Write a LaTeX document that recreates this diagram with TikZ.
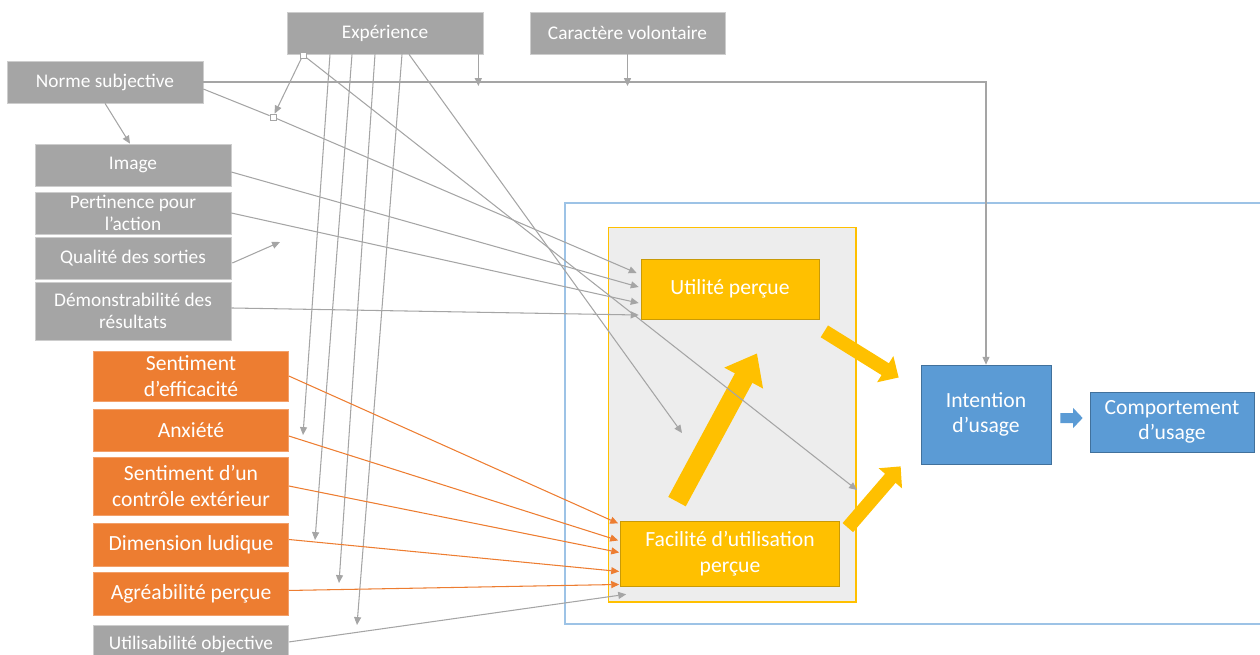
\documentclass[tikz,border=0pt]{standalone}
\usepackage{fontspec}
\setmainfont{Carlito}
\usetikzlibrary{shapes,arrows,arrows.meta,calc}
\definecolor{gris}{HTML}{A5A5A5}
\definecolor{grisbord}{HTML}{CDCDCD}
\definecolor{orangefill}{HTML}{ED7D31}
\definecolor{orangebord}{HTML}{F2A06A}
\definecolor{jaune}{HTML}{FFC000}
\definecolor{jaunebord}{HTML}{C99A06}
\definecolor{bleu}{HTML}{5B9BD5}
\definecolor{bleubord}{HTML}{41719C}
\definecolor{zonefill}{HTML}{EDEDED}
\definecolor{cadrecol}{HTML}{9DC3E6}
\tikzstyle{greybox} = [rectangle, draw=grisbord, fill=gris, text=white, align=center,
    minimum width=3.92cm, minimum height=0.84cm, inner sep=1pt, font=\fontsize{11}{12.5}\selectfont]
\tikzstyle{orangebox} = [rectangle, draw=orangebord, fill=orangefill, text=white, align=center,
    minimum width=3.9cm, minimum height=0.84cm, inner sep=1pt, font=\fontsize{12.3}{14.8}\selectfont]
\tikzstyle{yellowbox} = [rectangle, draw=jaunebord, fill=jaune, text=white, align=center,
    inner sep=1pt, font=\fontsize{12.3}{15}\selectfont]
\tikzstyle{bluebox} = [rectangle, draw=bleubord, fill=bleu, text=white, align=center,
    inner sep=1pt, font=\fontsize{12.3}{14.6}\selectfont]
\tikzstyle{zone} = [rectangle, draw=jaune, fill=zonefill, line width=0.6pt,
    minimum width=4.96cm, minimum height=7.5cm]
\tikzstyle{junction} = [rectangle, draw=gris, fill=white, line width=0.5pt,
    minimum size=0.12cm, inner sep=0pt]
\tikzstyle{greyline} = [draw=gris, line width=0.6pt, -{Triangle[length=4.5pt,width=4pt]}]
\tikzstyle{orangeline} = [draw=orangefill, line width=0.6pt, -{Triangle[length=4.5pt,width=4pt]}]
\tikzstyle{bigarrow} = [draw=jaune, line width=7.9pt, -{Triangle[length=9pt,width=17pt]}]
\tikzstyle{bluearrow} = [draw=bleu, line width=5.7pt, -{Triangle[length=5.5pt,width=11.3pt]}]
\begin{document}
\begin{tikzpicture}[x=0.02cm, y=-0.02cm]
	\useasboundingbox (0,0) rectangle (1260,654);
	\clip (0,0) rectangle (1260,654);
	\draw[cadrecol, line width=0.8pt] (565,203) rectangle (1300,624);
	\node [zone] (zone) at (732,414.5) {};

	\node [greybox] (exper) at (385,33) {Expérience};
	\node [greybox, minimum width=3.9cm] (volont) at (627.5,33) {Caractère volontaire};
	\node [greybox] (norme) at (105,82) {Norme subjective};
	\node [greybox] (image) at (133,165) {Image};
	\node [greybox, below of=image, node distance=0.96cm] (pertin) {Pertinence pour\\l’action};
	\node [greybox, below of=pertin, node distance=0.9cm] (qualite) {Qualité des sorties};
	\node [greybox, below of=qualite, node distance=1.06cm, minimum height=1.16cm] (demo) {Démonstrabilité des\\résultats};

	\node [orangebox, minimum height=1cm] (effic) at (191,376) {Sentiment\\d’efficacité};
	\node [orangebox, below of=effic, node distance=1.08cm] (anx) {Anxiété};
	\node [orangebox, below of=anx, node distance=1.12cm, minimum height=1.16cm] (contr) {Sentiment d’un\\contrôle extérieur};
	\node [orangebox, below of=contr, node distance=1.17cm, minimum height=0.86cm] (ludique) {Dimension ludique};
	\node [orangebox, below of=ludique, node distance=0.98cm, minimum height=0.86cm] (agreab) {Agréabilité perçue};
	\node [greybox, minimum width=3.9cm, minimum height=0.74cm, below of=agreab, node distance=1.01cm] (utilobj) {Utilisabilité objective};

	\node [yellowbox, minimum width=3.56cm, minimum height=1.2cm] (util) at (730,289) {Utilité perçue};
	\node [yellowbox, minimum width=4.38cm, minimum height=1.3cm, below of=util, node distance=5.29cm] (facil) {Facilité d’utilisation\\perçue};
	\node [bluebox, minimum width=2.6cm, minimum height=1.98cm] (intent) at (986,414.5) {Intention\\d’usage};
	\node [bluebox, minimum width=3.28cm, minimum height=1.2cm] (comport) at (1172,422) {Comportement\\d’usage};

	\node [junction] (jx) at (303,55) {};
	\node [junction] (jn) at (273,117) {};
	\coordinate (mfe) at (857,490);
	\coordinate (mfu) at (682,433);
	\coordinate (manx) at (303,435);
	\coordinate (mlud) at (315,540);
	\coordinate (magr) at (339,583);
	\coordinate (mobj) at (357,625);
	\coordinate (mqual) at (280,242);

	\draw[bigarrow] ($(util.south east)+(5,12)$) -- ($(intent.west)+(-22,-37)$);
	\draw[bigarrow] ($(facil.north east)+(8,7)$) -- ($(intent.south west)+(-20,2)$);
	\draw[bigarrow, line width=11.3pt, -{Triangle[length=16pt,width=24pt]}] ($(facil.north)+(-53,-19)$) -- ($(util.south)+(27,34)$);
	\draw[bluearrow] ($(intent.east)+(9,3.5)$) -- ($(comport.west)+(-7,-4)$);

	\draw[greyline] (norme.east) -| (intent.north);
	\draw[greyline] ($(exper.south east)+(-5,0)$) -- ($(exper.south east |- norme.east)+(-5,4)$);
	\draw[greyline] (volont.south) -- ($(volont.south |- norme.east)+(0,4)$);
	\draw[greyline] (norme.south) -- ($(image.north)+(-3,0)$);
	\draw[greyline] ($(norme.east)+(0,7)$) -- (jn) -- ($(util.west)+(-4,-16)$);
	\draw[greyline] (jx) -- (jn);
	\draw[greyline] (jx) -- (mfe);
	\draw[greyline] ($(exper.south)+(24,0)$) -- (mfu);
	\draw[greyline] ($(exper.south)+(-55,0)$) -- (manx);
	\draw[greyline] ($(exper.south)+(-33,0)$) -- (mlud);
	\draw[greyline] ($(exper.south)+(-10,0)$) -- (magr);
	\draw[greyline] ($(exper.south)+(17,0)$) -- (mobj);
	\draw[greyline] ($(image.east)+(0,7)$) -- ($(util.west)+(-2,-2)$);
	\draw[greyline] (pertin.east) -- ($(util.west)+(-2,14)$);
	\draw[greyline] ($(qualite.east)+(1,5)$) -- (mqual);
	\draw[greyline] ($(demo.east)+(0,-3)$) -- ($(util.west)+(-2,26)$);
	\draw[greyline] ($(utilobj.east)+(0,-2)$) -- ($(facil.south west)+(6,8)$);

	\draw[orangeline] (effic.east) -- ($(facil.west)+(-2,-30)$);
	\draw[orangeline] ($(anx.east)+(0,6)$) -- ($(facil.west)+(-2,-13)$);
	\draw[orangeline] (contr.east) -- ($(facil.west)+(-1,-1)$);
	\draw[orangeline] ($(ludique.east)+(0,-5)$) -- ($(facil.west)+(-1,18)$);
	\draw[orangeline] ($(agreab.east)+(0,-3)$) -- ($(facil.west)+(-1,31)$);
\end{tikzpicture}
\end{document}
